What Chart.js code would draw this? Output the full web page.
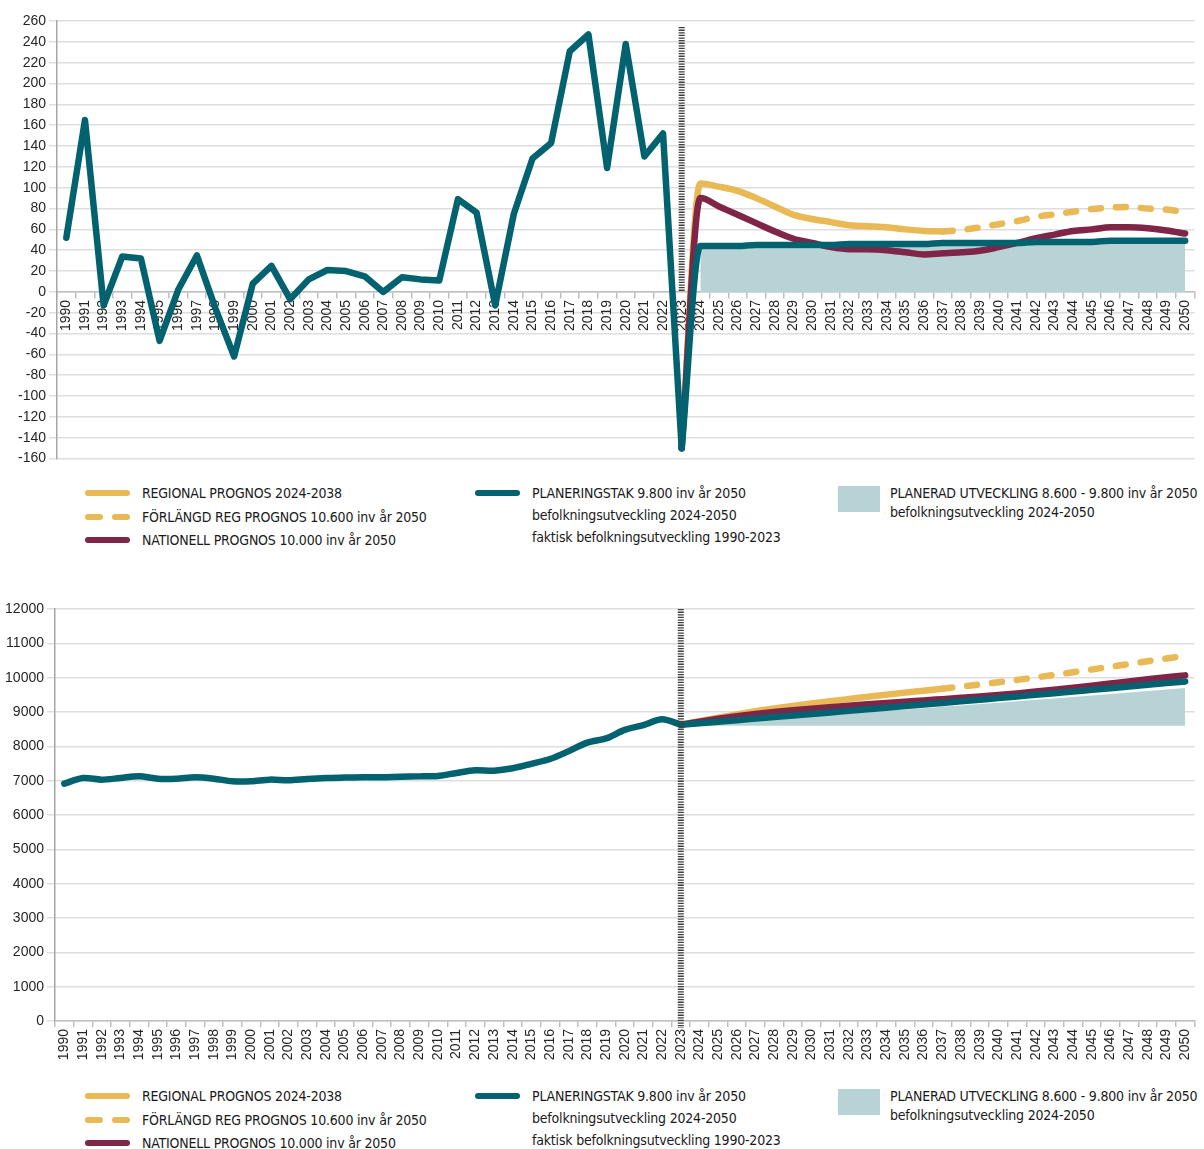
<!DOCTYPE html>
<html lang="sv">
<head>
<meta charset="utf-8">
<title>Befolkningsutveckling</title>
<script src="https://cdn.jsdelivr.net/npm/chart.js@4.4.1/dist/chart.umd.min.js"></script>
<style>
  body { margin: 0; background: #fff; }
  #page { position: relative; width: 1204px; height: 1149px; overflow: hidden; }
  .chartBox { position: absolute; left: 0; width: 1204px; }
  #changeBox { top: 0; height: 470px; }
  #popBox { top: 590px; height: 480px; }
  .legend { position: absolute; left: 0; width: 1204px; height: 66px;
            font-family: 'DejaVu Sans Condensed', 'Liberation Sans Narrow', sans-serif;
            font-size: 14px; color: #1a1a1a; letter-spacing: -0.2px; }
  .legend span { position: absolute; white-space: nowrap; line-height: 18px; }
  .legend i { position: absolute; display: block; }
</style>
</head>
<body>
<div id="page">
  <div class="chartBox" id="changeBox"><canvas id="changeChart"></canvas></div>
  <div class="legend" id="legendTop" style="top:480px"></div>
  <div class="chartBox" id="popBox"><canvas id="popChart"></canvas></div>
  <div class="legend" id="legendBottom" style="top:1083px"></div>
</div>
<script>
// categories
const years = Array.from({ length: 61 }, (_, i) => String(1990 + i));

// --- chart 1: yearly change (1990-2023 actual, projections from 2023) ---
const actualChange = [52, 165, -13, 34, 32, -47, 2, 35, -16, -62, 8, 25, -7, 12, 21, 20, 15, 0, 14, 12,
  11, 89, 76, -13, 75, 128, 143, 231, 247, 119, 238, 130, 152, -150];
const regionalChange = [-150, 104, 101, 97, 90, 82, 74, 70, 67, 64, 63, 62, 60, 58.5, 58];          // 2023-2037
const extendedChange = [58, 59.5, 62, 65, 68, 72, 74.5, 77, 79.5, 81, 81.5, 80, 79, 76.5];          // 2037-2050
const nationalChange = [-150, 90, 82, 74, 66, 58, 51, 47, 43, 41, 41, 40, 38, 36, 37, 38, 39.5, 43,
  47, 51.5, 55, 58.5, 60, 62, 62, 61, 59, 56];                                                       // 2023-2050
const planChange = [-150, 44, 44, 44, 45, 45, 45, 45, 45, 46, 46, 46, 46, 46, 47, 47, 47, 47, 47, 48,
  48, 48, 48, 49, 49, 49, 49, 49];                                                                   // 2023-2050
const plannedChangeArea = [41, 41, 41, 42, 42, 42, 42, 42, 43, 43, 43, 43, 43, 44, 44, 44, 44, 44, 45,
  45, 45, 45, 46, 46, 46, 46, 46];                                                                   // 2024-2050

// --- chart 2: population ---
const actualPop = [6912, 7078, 7030, 7078, 7126, 7058, 7058, 7097, 7058, 6980, 6980, 7030, 7010, 7050,
  7078, 7090, 7100, 7100, 7115, 7125, 7135, 7225, 7300, 7290, 7360, 7490, 7630, 7860, 8110, 8230,
  8480, 8620, 8790, 8630];                                                                           // 1990-2023
const regionalPop = [8630, 8734, 8835, 8932, 9022, 9104, 9178, 9248, 9315, 9379, 9442, 9504, 9564, 9622, 9680]; // 2023-2037
const extendedPop = [9680, 9740, 9802, 9867, 9935, 10007, 10082, 10159, 10238, 10319, 10400, 10480, 10559, 10636]; // 2037-2050
const nationalPop = [8630, 8720, 8802, 8876, 8942, 9000, 9051, 9098, 9141, 9182, 9223, 9263, 9301, 9337,
  9375, 9413, 9452, 9495, 9542, 9594, 9649, 9707, 9767, 9829, 9891, 9952, 10011, 10067];             // 2023-2050
const planPop = [8630, 8674, 8718, 8762, 8807, 8852, 8897, 8942, 8987, 9033, 9079, 9125, 9171, 9217,
  9264, 9311, 9358, 9405, 9453, 9501, 9549, 9597, 9646, 9695, 9744, 9793, 9842, 9891];               // 2023-2050
const plannedPopArea = [8630, 8665, 8700, 8735, 8772, 8808, 8845, 8882, 8920, 8958, 8996, 9034, 9072,
  9110, 9150, 9190, 9230, 9270, 9312, 9354, 9396, 9438, 9480, 9524, 9568, 9612, 9656, 9700];         // 2023-2050
const plannedPopBase = 8600;

const TEAL = '#026270';
const YELLOW = '#E8B955';
const MAROON = '#7E2548';
const FILL = '#B7D3D6';
const tickFont = { family: "'Liberation Sans', Arial, sans-serif", size: 14 };
const tickColor = '#262626';

// put a series into the 1990-2050 category slots
function fromYear(values, start) {
  const out = new Array(years.length).fill(null);
  values.forEach((v, i) => { out[start - 1990 + i] = v; });
  return out;
}

function lineSet(label, data, color, order, extra) {
  return Object.assign({
    label, data, borderColor: color, backgroundColor: color, borderWidth: 6.5,
    pointRadius: 0, fill: false, order, borderJoinStyle: 'round', borderCapStyle: 'round'
  }, extra || {});
}

// dashed vertical marker at 2023
const marker2023 = {
  id: 'marker2023',
  afterDatasetsDraw(chart, args, opts) {
    const { ctx, chartArea, scales } = chart;
    const x = scales.x.getPixelForValue(years.indexOf('2023'));
    const yTop = chartArea.top + (opts.topGap || 0);
    const yBottom = opts.toZero ? scales.y.getPixelForValue(0) : chartArea.bottom + 7;
    ctx.save();
    ctx.strokeStyle = '#3c3c3c';
    ctx.lineWidth = 6;
    ctx.setLineDash([1.3, 1.3]);
    ctx.beginPath();
    ctx.moveTo(x, yTop);
    ctx.lineTo(x, yBottom);
    ctx.stroke();
    ctx.restore();
  }
};

function xScale(extra) {
  return Object.assign({
    offset: true,
    grid: { offset: true, drawOnChartArea: false, tickLength: 6, color: '#bfbfbf', lineWidth: 1.5 },
    border: { color: '#bfbfbf', width: 1.5 },
    ticks: { minRotation: 90, maxRotation: 90, autoSkip: false, padding: 2, font: tickFont, color: tickColor }
  }, extra);
}

function yScale(min, max, step, width) {
  return {
    min, max,
    ticks: { stepSize: step, font: tickFont, color: tickColor, padding: 3, callback: v => String(v) },
    grid: { color: '#dedede', lineWidth: 1.5, tickLength: 8 },
    border: { color: '#a6a6a6', width: 1.5 },
    afterFit(s) { s.width = width; }
  };
}

const common = {
  responsive: true,
  maintainAspectRatio: false,
  animation: false,
  events: [],
  plugins: { legend: { display: false }, tooltip: { enabled: false } }
};

new Chart(document.getElementById('changeChart'), {
  type: 'line',
  data: {
    labels: years,
    datasets: [
      lineSet('faktisk befolkningsutveckling 1990-2023', fromYear(actualChange, 1990), TEAL, 1, { tension: 0 }),
      lineSet('PLANERINGSTAK 9.800 inv år 2050', fromYear(planChange, 2023), TEAL, 2, { cubicInterpolationMode: 'monotone' }),
      lineSet('NATIONELL PROGNOS 10.000 inv år 2050', fromYear(nationalChange, 2023), MAROON, 3, { cubicInterpolationMode: 'monotone' }),
      lineSet('REGIONAL PROGNOS 2024-2038', fromYear(regionalChange, 2023), YELLOW, 4, { cubicInterpolationMode: 'monotone' }),
      lineSet('FÖRLÄNGD REG PROGNOS 10.600 inv år 2050', fromYear(extendedChange, 2037), YELLOW, 4,
        { cubicInterpolationMode: 'monotone', borderDash: [10, 15] }),
      { label: 'PLANERAD UTVECKLING 8.600 - 9.800 inv år 2050', data: fromYear(plannedChangeArea, 2024),
        backgroundColor: FILL, borderWidth: 0, pointRadius: 0, fill: 'origin', order: 6 }
    ]
  },
  options: Object.assign({}, common, {
    layout: { padding: { top: 21, right: 6, bottom: 9, left: 0 } },
    plugins: Object.assign({}, common.plugins, { marker2023: { toZero: true, topGap: 6 } }),
    scales: {
      x: xScale({ position: { y: 0 } }),
      y: yScale(-160, 260, 20, 57)
    }
  }),
  plugins: [marker2023]
});

new Chart(document.getElementById('popChart'), {
  type: 'line',
  data: {
    labels: years,
    datasets: [
      lineSet('faktisk befolkningsutveckling 1990-2023', fromYear(actualPop, 1990), TEAL, 1, { tension: 0.3 }),
      lineSet('PLANERINGSTAK 9.800 inv år 2050', fromYear(planPop, 2023), TEAL, 2, { cubicInterpolationMode: 'monotone' }),
      lineSet('NATIONELL PROGNOS 10.000 inv år 2050', fromYear(nationalPop, 2023), MAROON, 3, { cubicInterpolationMode: 'monotone' }),
      lineSet('REGIONAL PROGNOS 2024-2038', fromYear(regionalPop, 2023), YELLOW, 4, { cubicInterpolationMode: 'monotone' }),
      lineSet('FÖRLÄNGD REG PROGNOS 10.600 inv år 2050', fromYear(extendedPop, 2037), YELLOW, 4,
        { cubicInterpolationMode: 'monotone', borderDash: [10, 15] }),
      { label: 'PLANERAD UTVECKLING 8.600 - 9.800 inv år 2050', data: fromYear(plannedPopArea, 2023),
        backgroundColor: FILL, borderWidth: 0, pointRadius: 0, fill: { value: plannedPopBase }, order: 6 }
    ]
  },
  options: Object.assign({}, common, {
    layout: { padding: { top: 19, right: 6, bottom: 0, left: 0 } },
    plugins: Object.assign({}, common.plugins, { marker2023: { toZero: false, topGap: 0 } }),
    scales: {
      x: xScale({ position: 'bottom', afterFit(s) { s.height = 49; } }),
      y: yScale(0, 12000, 1000, 55)
    }
  }),
  plugins: [marker2023]
});

// legend (same for both charts)
const legendRows = [
  { kind: 'line', color: YELLOW, left: 85, top: 13, text: 'REGIONAL PROGNOS 2024-2038' },
  { kind: 'dash', color: YELLOW, left: 85, top: 37, text: 'FÖRLÄNGD REG PROGNOS 10.600 inv år 2050' },
  { kind: 'line', color: MAROON, left: 85, top: 60, text: 'NATIONELL PROGNOS 10.000 inv år 2050' },
  { kind: 'line', color: TEAL, left: 475, top: 13, text: 'PLANERINGSTAK 9.800 inv år 2050' },
  { kind: 'none', left: 475, top: 35, text: 'befolkningsutveckling 2024-2050' },
  { kind: 'none', left: 475, top: 57, text: 'faktisk befolkningsutveckling 1990-2023' },
  { kind: 'box', color: FILL, left: 838, top: 13, text: 'PLANERAD UTVECKLING 8.600 - 9.800 inv år 2050' },
  { kind: 'none', left: 838, top: 32, text: 'befolkningsutveckling 2024-2050' }
];

function buildLegend(el) {
  legendRows.forEach(r => {
    const textLeft = r.left + (r.left === 838 ? 52 : 57);
    if (r.kind === 'line') {
      el.insertAdjacentHTML('beforeend',
        `<i style="left:${r.left}px;top:${r.top - 3}px;width:45px;height:6px;border-radius:3px;background:${r.color}"></i>`);
    } else if (r.kind === 'dash') {
      el.insertAdjacentHTML('beforeend',
        `<i style="left:${r.left}px;top:${r.top - 3}px;width:18px;height:6px;border-radius:3px;background:${r.color}"></i>` +
        `<i style="left:${r.left + 27}px;top:${r.top - 3}px;width:18px;height:6px;border-radius:3px;background:${r.color}"></i>`);
    } else if (r.kind === 'box') {
      el.insertAdjacentHTML('beforeend',
        `<i style="left:${r.left}px;top:6px;width:42px;height:26px;background:${r.color}"></i>`);
    }
    const span = document.createElement('span');
    span.textContent = r.text;
    span.style.left = textLeft + 'px';
    span.style.top = (r.top - 9) + 'px';
    el.appendChild(span);
  });
}
buildLegend(document.getElementById('legendTop'));
buildLegend(document.getElementById('legendBottom'));
</script>
</body>
</html>
